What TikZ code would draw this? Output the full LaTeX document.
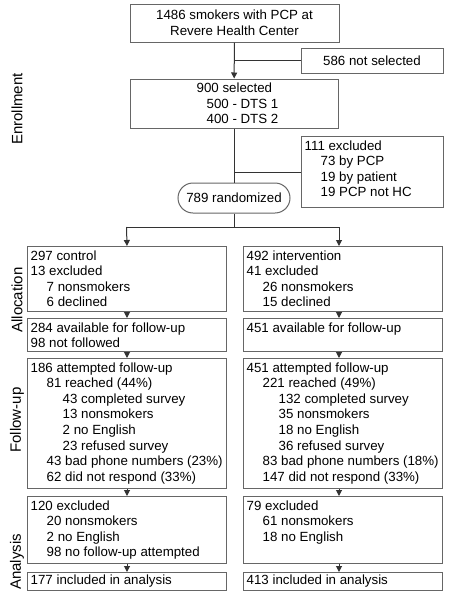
\documentclass[tikz,border=0pt]{standalone}
\usepackage{fontspec}
\setmainfont{Liberation Sans}
\usetikzlibrary{positioning, arrows.meta, calc}

\newcommand{\ind}{\hspace*{16pt}}

\begin{document}
\begin{tikzpicture}[x=1pt, y=-1pt,
    box/.style={rectangle, draw=black!60, line width=1pt, inner sep=0pt,
                font=\fontsize{13.3}{15.6}\selectfont},
    txt/.style={anchor=north west, align=left, inner xsep=3.5pt, inner ysep=4.3pt,
                font=\fontsize{13.3}{15.6}\selectfont},
    phase/.style={rotate=90, font=\fontsize{15}{17}\selectfont},
    conn/.style={line width=1pt, black!80},
    arrow/.style={-{Triangle[length=6pt, width=6pt]}, line width=1pt, black!80}
]
    \useasboundingbox (0,0) rectangle (449,600);

    % Phases
    \node[phase] (enr) at (17,109) {Enrollment};
    \node[phase] (alc) at (17,300) {Allocation};
    \node[phase] (fol) at (17,420) {Follow-up};
    \node[phase] (ana) at (17,562) {Analysis};

    % Enrollment
    \node[box, minimum width=209, minimum height=38, align=center] (src) at (234.5,23)
        {1486 smokers with PCP at\\ Revere Health Center};
    \node[box, minimum width=142, minimum height=25] (ns) at (372,60.5) {586 not selected};
    \node[box, minimum width=208, minimum height=49] (sel) at (234,103.5) {};
    \node[txt, anchor=center] (sel-t) at ([xshift=3.5]sel.center)
        {900 selected\\ \hspace*{10pt}500 - DTS 1\\ \hspace*{10pt}400 - DTS 2};
    \node[box, minimum width=142, minimum height=71, anchor=north west] (excl) at (301,136) {};
    \node[txt] (excl-t) at (excl.north west)
        {111 excluded\\ \ind 73 by PCP\\ \ind 19 by patient\\ \ind 19 PCP not HC};
    \node[box, rounded corners=15pt, minimum width=112, minimum height=30] (rand) at (234,198)
        {789 randomized};

    % Control arm
    \node[box, minimum width=199, minimum height=65, anchor=north west] (lalloc) at (27,246) {};
    \node[txt] (lalloc-t) at (lalloc.north west)
        {297 control\\ 13 excluded\\ \ind 7 nonsmokers\\ \ind 6 declined};
    \node[box, minimum width=199, minimum height=33, anchor=north west] (lavail) at (27,318) {};
    \node[txt] (lavail-t) at (lavail.north west)
        {284 available for follow-up\\ 98 not followed};
    \node[box, minimum width=199, minimum height=130, anchor=north west] (lfollow) at (27,358) {};
    \node[txt] (lfollow-t) at (lfollow.north west)
        {186 attempted follow-up\\ \ind 81 reached (44\%)\\ \ind\ind 43 completed survey\\
         \ind\ind 13 nonsmokers\\ \ind\ind 2 no English\\ \ind\ind 23 refused survey\\
         \ind 43 bad phone numbers (23\%)\\ \ind 62 did not respond (33\%)};
    \node[box, minimum width=199, minimum height=67, anchor=north west] (lexcl) at (27,496) {};
    \node[txt] (lexcl-t) at (lexcl.north west)
        {120 excluded\\ \ind 20 nonsmokers\\ \ind 2 no English\\ \ind 98 no follow-up attempted};
    \node[box, minimum width=199, minimum height=18, anchor=north west] (lincl) at (27,572) {};
    \node[txt, anchor=west] (lincl-t) at (lincl.west) {177 included in analysis};

    % Intervention arm
    \node[box, minimum width=199, minimum height=65, anchor=north west] (ralloc) at (243,246) {};
    \node[txt] (ralloc-t) at (ralloc.north west)
        {492 intervention\\ 41 excluded\\ \ind 26 nonsmokers\\ \ind 15 declined};
    \node[box, minimum width=199, minimum height=33, anchor=north west] (ravail) at (243,318) {};
    \node[txt] (ravail-t) at (ravail.north west) {451 available for follow-up};
    \node[box, minimum width=199, minimum height=130, anchor=north west] (rfollow) at (243,358) {};
    \node[txt] (rfollow-t) at (rfollow.north west)
        {451 attempted follow-up\\ \ind 221 reached (49\%)\\ \ind\ind 132 completed survey\\
         \ind\ind 35 nonsmokers\\ \ind\ind 18 no English\\ \ind\ind 36 refused survey\\
         \ind 83 bad phone numbers (18\%)\\ \ind 147 did not respond (33\%)};
    \node[box, minimum width=199, minimum height=67, anchor=north west] (rexcl) at (243,496) {};
    \node[txt] (rexcl-t) at (rexcl.north west)
        {79 excluded\\ \ind 61 nonsmokers\\ \ind 18 no English};
    \node[box, minimum width=199, minimum height=18, anchor=north west] (rincl) at (243,572) {};
    \node[txt, anchor=west] (rincl-t) at (rincl.west) {413 included in analysis};

    % Arrows
    \draw[arrow] (src) -- (sel);
    \draw[conn] (src.south |- ns.west) -- (ns.west);
    \draw[conn] (sel) -- (rand);
    \draw[conn] (sel.south |- excl.west) -- (excl.west);

    % Split
    \coordinate (lsplit) at (126.5,227);
    \coordinate (rsplit) at (339,227);
    \draw[conn] (rand.south) -- (rand.south |- lsplit);
    \draw[conn] (lsplit) -- (rsplit);
    \draw[arrow] (lsplit) -- (lalloc.north);
    \draw[arrow] (rsplit) -- (ralloc.north -| rsplit);

    \draw[arrow] (lalloc) -- (lavail);
    \draw[arrow] (lavail) -- (lfollow);
    \draw[arrow] (lfollow) -- (lexcl);
    \draw[arrow] (lexcl) -- (lincl);

    \draw[arrow] (ralloc.south -| rsplit) -- (ravail.north -| rsplit);
    \draw[arrow] (ravail.south -| rsplit) -- (rfollow.north -| rsplit);
    \draw[arrow] (rfollow.south -| rsplit) -- (rexcl.north -| rsplit);
    \draw[arrow] (rexcl.south -| rsplit) -- (rincl.north -| rsplit);

\end{tikzpicture}
\end{document}
